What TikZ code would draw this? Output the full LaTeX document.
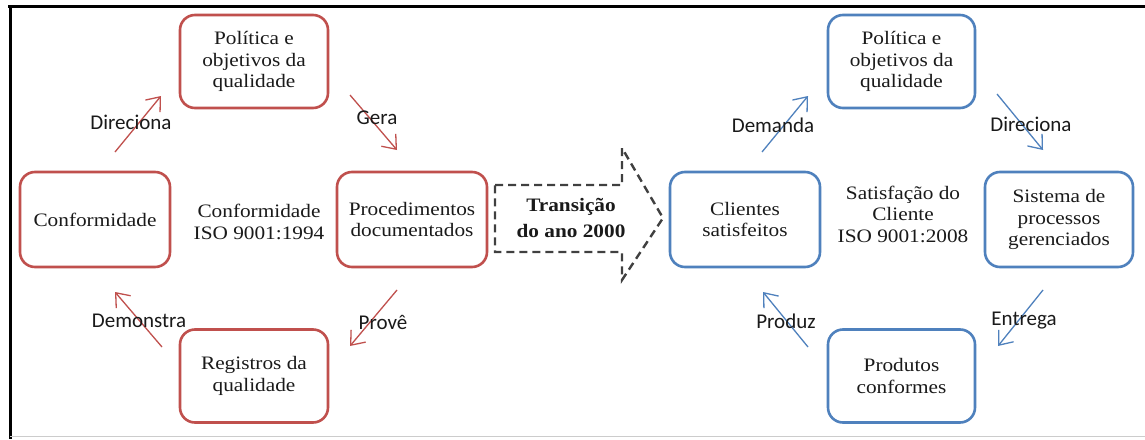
\documentclass[tikz,border=0pt]{standalone}
\usepackage{fontspec}
\setmainfont{Liberation Serif}[FakeStretch=1.12]
\newfontfamily\lblfont{Carlito}
\usetikzlibrary{arrows.meta}
\definecolor{redline}{HTML}{C0504D}
\definecolor{blueline}{HTML}{4F81BD}
\definecolor{dashgray}{HTML}{404040}
\definecolor{inkcol}{HTML}{1A1A1A}
\begin{document}
\begin{tikzpicture}[x=1pt,y=-1pt,
  box/.style={draw, line width=2.6pt, rounded corners=15pt, align=center,
    text=inkcol, font=\fontsize{19}{21.5}\selectfont, inner sep=0pt,
    minimum width=148pt, minimum height=93pt},
  redbox/.style={box, draw=redline},
  bluebox/.style={box, draw=blueline},
  flow/.style={line width=1.3pt,
    -{Straight Barb[length=12pt,width=19pt,line width=1.3pt]}},
  redflow/.style={flow, draw=redline},
  blueflow/.style={flow, draw=blueline},
  lbl/.style={font=\lblfont\fontsize{21}{24}\selectfont, text=inkcol, inner sep=0pt},
  centertext/.style={align=center, text=inkcol, font=\fontsize{19}{21.5}\selectfont, inner sep=0pt}
]
\useasboundingbox (0,0) rectangle (1145,439);
\fill[white] (0,0) rectangle (1145,439);

% frame
\draw[line width=3pt, black] (8,6) -- (1145,6);
\draw[line width=3pt, black] (10,5) -- (10,439);
\draw[line width=1pt, black!20] (10,436) -- (1145,436);

% ---- ISO 9001:1994 cycle ----
\node[redbox] (pol1) at (254,61.5) {Política e\\objetivos da\\qualidade};
\node[redbox, minimum width=150pt, minimum height=95pt] (conf) at (95,219.5) {Conformidade};
\node[redbox, minimum width=150pt, minimum height=95pt] (proc) at (412,219.5) {Procedimentos\\documentados};
\node[redbox] (reg) at (254,376) {Registros da\\qualidade};
\node[centertext] (iso94) at (259,222) {Conformidade\\ISO 9001:1994};

\coordinate (d1s) at (115,152); \coordinate (d1e) at (161,96);
\coordinate (g1s) at (350,95);  \coordinate (g1e) at (397,150);
\coordinate (p1s) at (397,290); \coordinate (p1e) at (350,346);
\coordinate (m1s) at (162,347); \coordinate (m1e) at (115,292);
\draw[redflow] (d1s) -- (d1e);
\draw[redflow] (g1s) -- (g1e);
\draw[redflow] (p1s) -- (p1e);
\draw[redflow] (m1s) -- (m1e);
\node[lbl] (ldir1) at (131,122) {Direciona};
\node[lbl] (lger) at (377,118) {Gera};
\node[lbl] (lprov) at (383,322) {Provê};
\node[lbl] (ldem) at (139,321) {Demonstra};

% ---- transition arrow ----
\draw[dashgray, line width=2.4pt, dash pattern=on 8pt off 5pt, line join=miter]
  (495,185) -- (622,185) -- (622,148) -- (663,218) -- (622,280) -- (622,252) -- (495,252) -- cycle;
\node[centertext, font=\bfseries\fontsize{19}{26}\selectfont] (trans) at (571,218) {Transição\\do ano 2000};

% ---- ISO 9001:2008 cycle ----
\node[bluebox, minimum width=147pt] (pol2) at (901.5,61.5) {Política e\\objetivos da\\qualidade};
\node[bluebox, minimum width=150pt, minimum height=95pt] (cli) at (745,219.5) {Clientes\\satisfeitos};
\node[bluebox, minimum height=95pt] (sis) at (1059,219.5) {Sistema de\\processos\\gerenciados};
\node[bluebox, minimum width=147pt] (prod) at (901.5,376) {Produtos\\conformes};
\node[centertext] (iso08) at (903,214) {Satisfação do\\Cliente\\ISO 9001:2008};

\coordinate (d2s) at (762,152);  \coordinate (d2e) at (808,96);
\coordinate (r2s) at (997,94);   \coordinate (r2e) at (1043,150);
\coordinate (e2s) at (1043,290); \coordinate (e2e) at (998,346);
\coordinate (z2s) at (808,347);  \coordinate (z2e) at (763,292);
\draw[blueflow] (d2s) -- (d2e);
\draw[blueflow] (r2s) -- (r2e);
\draw[blueflow] (e2s) -- (e2e);
\draw[blueflow] (z2s) -- (z2e);
\node[lbl] (ldem2) at (773,125) {Demanda};
\node[lbl] (ldir2) at (1031,124) {Direciona};
\node[lbl] (lent) at (1024,321) {Entrega};
\node[lbl] (lprz) at (786,321) {Produz};
\end{tikzpicture}
\end{document}
